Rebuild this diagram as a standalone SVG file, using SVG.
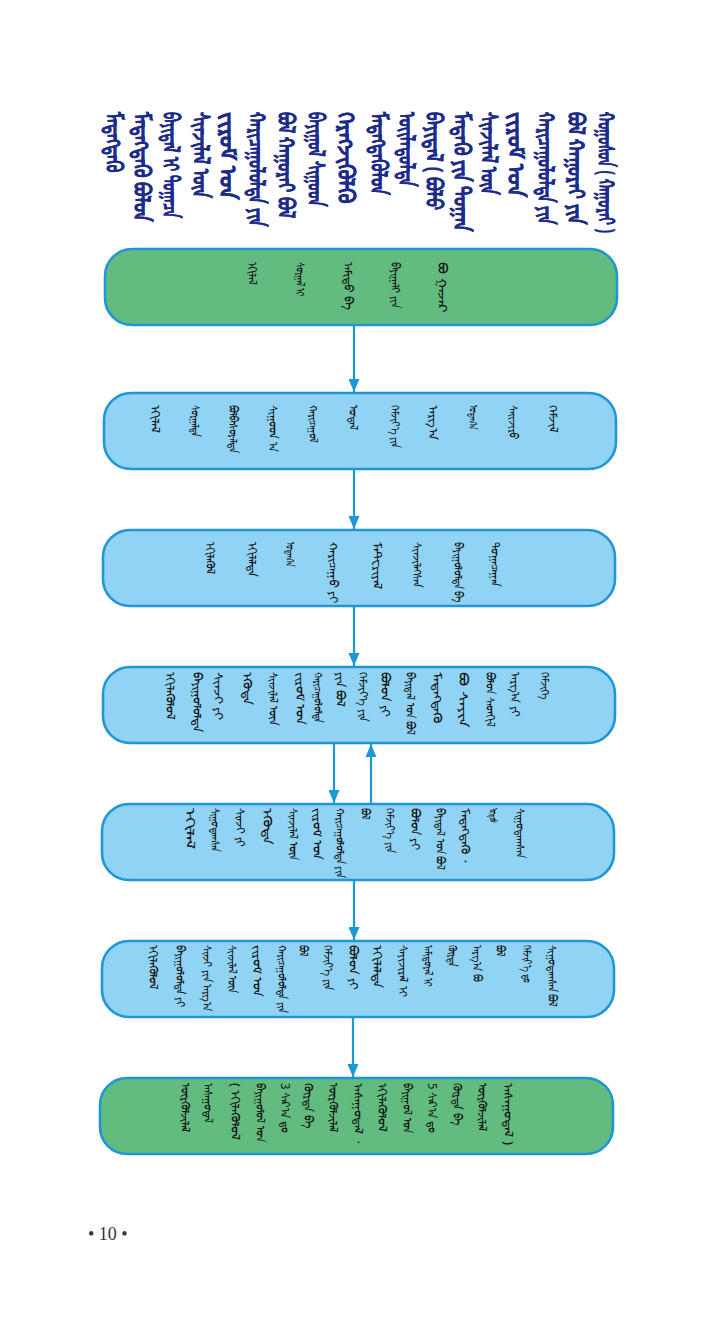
<svg xmlns="http://www.w3.org/2000/svg" width="720" height="1319" viewBox="0 0 720 1319">
<style>
.bg{fill:#ffffff}
.box{stroke:#2097d4;stroke-width:2.6}
.blue{fill:#90d3f4}
.green{fill:#62bb7f}
.conn{stroke:#1c98d6;stroke-width:2.2;fill:none}
.ttl{font-family:"Noto Sans","DejaVu Sans",sans-serif;font-size:23px;font-weight:bold;fill:#1c2c8a;stroke:#1c2c8a;stroke-width:0.3;dominant-baseline:central}
.txt{font-family:"Noto Sans","DejaVu Sans",sans-serif;font-size:12px;fill:#111111;dominant-baseline:central}
.pg{font-family:"Liberation Serif",serif;font-size:18px;fill:#333333}
</style>
<defs>
<marker id="ah" viewBox="0 0 13 11" refX="13" refY="5.5" markerWidth="13" markerHeight="11" markerUnits="userSpaceOnUse" orient="auto">
<path d="M0,0 L13,5.5 L0,11 z" fill="#1c98d6"/>
</marker>
</defs>
<rect class="bg" x="0" y="0" width="720" height="1319"/>

<g id="title">
<text class="ttl" x="115" y="112" transform="rotate(90 115 112)" textLength="60" lengthAdjust="spacingAndGlyphs">ᠮᠡᠳᠡᠭᠳᠡᠬᠦ</text>
<text class="ttl" x="143" y="112" transform="rotate(90 143 112)" textLength="110" lengthAdjust="spacingAndGlyphs">ᠮᠡᠳᠡᠭᠳᠡᠬᠦ ᠪᠣᠯᠤᠨ</text>
<text class="ttl" x="172" y="112" transform="rotate(90 172 112)" textLength="106" lengthAdjust="spacingAndGlyphs">ᠪᠠᠶᠢᠳᠠᠯ ᠢ ᠲᠣᠭᠠᠴᠠ</text>
<text class="ttl" x="202" y="112" transform="rotate(90 202 112)" textLength="86" lengthAdjust="spacingAndGlyphs">ᠰᠢᠨᠵᠢᠯᠡᠯ ᠦᠨ</text>
<text class="ttl" x="229" y="112" transform="rotate(90 229 112)" textLength="88" lengthAdjust="spacingAndGlyphs">ᠵᠢᠷᠤᠮ ᠤᠨ</text>
<text class="ttl" x="258" y="112" transform="rotate(90 258 112)" textLength="115" lengthAdjust="spacingAndGlyphs">ᠬᠠᠷᠢᠴᠠᠭᠤᠯᠤᠯᠲᠠ ᠶᠢᠨ</text>
<text class="ttl" x="287" y="112" transform="rotate(90 287 112)" textLength="106" lengthAdjust="spacingAndGlyphs">ᠪᠣᠯ ᠬᠠᠭᠤᠷᠠᠢ ᠪᠣᠯ</text>
<text class="ttl" x="317" y="112" transform="rotate(90 317 112)" textLength="95" lengthAdjust="spacingAndGlyphs">ᠪᠠᠶᠢᠭᠤᠯ ᠰᠢᠭᠤᠳ</text>
<text class="ttl" x="347" y="112" transform="rotate(90 347 112)" textLength="91" lengthAdjust="spacingAndGlyphs">ᠬᠡᠷᠡᠭᠵᠢᠬᠦᠯᠬᠦ</text>
<text class="ttl" x="380" y="112" transform="rotate(90 380 112)" textLength="83" lengthAdjust="spacingAndGlyphs">ᠮᠡᠳᠡᠭᠳᠡᠬᠦᠯᠦᠨ</text>
<text class="ttl" x="408" y="112" transform="rotate(90 408 112)" textLength="75" lengthAdjust="spacingAndGlyphs">ᠦᠢᠯᠡᠳᠦᠯᠲᠡ</text>
<text class="ttl" x="435" y="112" transform="rotate(90 435 112)" textLength="98" lengthAdjust="spacingAndGlyphs">ᠪᠠᠶᠢᠳᠠᠯ ( ᠪᠣᠯᠤ</text>
<text class="ttl" x="463" y="112" transform="rotate(90 463 112)" textLength="120" lengthAdjust="spacingAndGlyphs">ᠮᠡᠳᠡᠬᠦ ᠶᠢᠨ ᠲᠣᠭᠠᠨ</text>
<text class="ttl" x="490" y="112" transform="rotate(90 490 112)" textLength="83" lengthAdjust="spacingAndGlyphs">ᠰᠢᠨᠵᠢᠯᠡᠯ ᠦᠨ</text>
<text class="ttl" x="517" y="112" transform="rotate(90 517 112)" textLength="85" lengthAdjust="spacingAndGlyphs">ᠵᠢᠷᠤᠮ ᠤᠨ</text>
<text class="ttl" x="547" y="112" transform="rotate(90 547 112)" textLength="113" lengthAdjust="spacingAndGlyphs">ᠬᠠᠷᠢᠴᠠᠭᠤᠯᠤᠯᠲᠠ ᠶᠢᠨ</text>
<text class="ttl" x="577" y="112" transform="rotate(90 577 112)" textLength="113" lengthAdjust="spacingAndGlyphs">ᠪᠣᠯ ᠬᠠᠭᠤᠷᠠᠢ ᠶᠢᠨ</text>
<text class="ttl" x="607" y="112" transform="rotate(90 607 112)" textLength="121" lengthAdjust="spacingAndGlyphs">ᠬᠣᠭᠣᠰᠣᠨ ( ᠬᠠᠭᠤᠷᠠᠢ )</text>
</g>

<g id="connectors">
<path class="conn" d="M354,326 V392" marker-end="url(#ah)"/>
<path class="conn" d="M354,470 V529" marker-end="url(#ah)"/>
<path class="conn" d="M354,607 V666" marker-end="url(#ah)"/>
<path class="conn" d="M334,744 V803" marker-end="url(#ah)"/>
<path class="conn" d="M371,803 V744" marker-end="url(#ah)"/>
<path class="conn" d="M354,881 V940" marker-end="url(#ah)"/>
<path class="conn" d="M353,1018 V1077" marker-end="url(#ah)"/>
</g>

<g id="node1">
<rect class="box green" x="105" y="249" width="512" height="76" rx="27"/>
<text class="txt" x="252" y="262" transform="rotate(90 252 262)" textLength="23" lengthAdjust="spacingAndGlyphs">ᠡᠬᠢᠯᠡᠯ</text>
<text class="txt" x="300" y="262" transform="rotate(90 300 262)" textLength="35" lengthAdjust="spacingAndGlyphs">ᠰᠤᠷᠭᠠᠯ ᠢ</text>
<text class="txt" x="348" y="262" transform="rotate(90 348 262)" textLength="48" lengthAdjust="spacingAndGlyphs">ᠠᠮᠢᠳᠤ ᠪᠠ</text>
<text class="txt" x="395" y="262" transform="rotate(90 395 262)" textLength="46" lengthAdjust="spacingAndGlyphs">ᠪᠠᠶᠢᠭᠠᠯᠢ ᠶᠢᠨ</text>
<text class="txt" x="442" y="262" transform="rotate(90 442 262)" textLength="50" lengthAdjust="spacingAndGlyphs">ᠪᠣ ᠭᠠᠵᠠᠷ</text>
</g>

<g id="node2">
<rect class="box blue" x="104" y="393" width="512" height="76" rx="27"/>
<text class="txt" x="155" y="405" transform="rotate(90 155 405)" textLength="28" lengthAdjust="spacingAndGlyphs">ᠡᠬᠢᠯᠡᠯ</text>
<text class="txt" x="195" y="405" transform="rotate(90 195 405)" textLength="32" lengthAdjust="spacingAndGlyphs">ᠰᠤᠷᠭᠠᠯᠲᠠ</text>
<text class="txt" x="233" y="405" transform="rotate(90 233 405)" textLength="48" lengthAdjust="spacingAndGlyphs">ᠪᠣᠯᠪᠠᠰᠤᠷᠠᠯᠲᠠ</text>
<text class="txt" x="273" y="405" transform="rotate(90 273 405)" textLength="47" lengthAdjust="spacingAndGlyphs">ᠰᠢᠭᠤᠳ ᠠ</text>
<text class="txt" x="313" y="405" transform="rotate(90 313 405)" textLength="38" lengthAdjust="spacingAndGlyphs">ᠬᠠᠷᠢᠴᠠᠭᠤᠯ</text>
<text class="txt" x="353" y="405" transform="rotate(90 353 405)" textLength="25" lengthAdjust="spacingAndGlyphs">ᠤᠳᠠᠯ</text>
<text class="txt" x="395" y="405" transform="rotate(90 395 405)" textLength="43" lengthAdjust="spacingAndGlyphs">ᠬᠡᠮᠵᠢᠶ᠎ᠡ ᠶᠢᠨ</text>
<text class="txt" x="433" y="405" transform="rotate(90 433 405)" textLength="35" lengthAdjust="spacingAndGlyphs">ᠠᠷᠭ᠎ᠠ</text>
<text class="txt" x="473" y="405" transform="rotate(90 473 405)" textLength="25" lengthAdjust="spacingAndGlyphs">ᠤᠳᠠᠭ᠎ᠠ</text>
<text class="txt" x="513" y="405" transform="rotate(90 513 405)" textLength="35" lengthAdjust="spacingAndGlyphs">ᠰᠠᠢᠵᠢᠷᠤ</text>
<text class="txt" x="553" y="405" transform="rotate(90 553 405)" textLength="28" lengthAdjust="spacingAndGlyphs">ᠬᠡᠮᠵᠢᠯ</text>
</g>

<g id="node3">
<rect class="box blue" x="103" y="530" width="512" height="76" rx="27"/>
<text class="txt" x="210" y="542" transform="rotate(90 210 542)" textLength="33" lengthAdjust="spacingAndGlyphs">ᠡᠬᠢᠯᠡᠭᠦᠯ</text>
<text class="txt" x="252" y="542" transform="rotate(90 252 542)" textLength="35" lengthAdjust="spacingAndGlyphs">ᠡᠬᠢᠯᠡᠯᠲᠡ</text>
<text class="txt" x="290" y="542" transform="rotate(90 290 542)" textLength="25" lengthAdjust="spacingAndGlyphs">ᠤᠳᠠᠭ᠎ᠠ</text>
<text class="txt" x="333" y="542" transform="rotate(90 333 542)" textLength="61" lengthAdjust="spacingAndGlyphs">ᠬᠠᠷᠢᠴᠠᠭᠤ ᠶᠢ</text>
<text class="txt" x="377" y="542" transform="rotate(90 377 542)" textLength="48" lengthAdjust="spacingAndGlyphs">ᠮᠠᠲ᠋ᠧᠷᠢᠶᠠᠯ</text>
<text class="txt" x="417" y="542" transform="rotate(90 417 542)" textLength="45" lengthAdjust="spacingAndGlyphs">ᠰᠢᠨᠵᠢᠯᠡᠭᠰᠡᠨ</text>
<text class="txt" x="458" y="542" transform="rotate(90 458 542)" textLength="61" lengthAdjust="spacingAndGlyphs">ᠪᠠᠶᠢᠭᠤᠯᠤᠯᠲᠠ ᠪᠠ</text>
<text class="txt" x="495" y="542" transform="rotate(90 495 542)" textLength="45" lengthAdjust="spacingAndGlyphs">ᠲᠣᠭᠠᠴᠠᠭᠠᠨ</text>
</g>

<g id="node4">
<rect class="box blue" x="103" y="667" width="512" height="76" rx="27"/>
<text class="txt" x="170" y="672" transform="rotate(90 170 672)" textLength="48" lengthAdjust="spacingAndGlyphs">ᠡᠬᠢᠯᠡᠭᠦᠯᠦᠯ</text>
<text class="txt" x="197" y="672" transform="rotate(90 197 672)" textLength="60" lengthAdjust="spacingAndGlyphs">ᠪᠠᠶᠢᠭᠤᠯᠤᠯᠲᠠ</text>
<text class="txt" x="218" y="672" transform="rotate(90 218 672)" textLength="48" lengthAdjust="spacingAndGlyphs">ᠰᠢᠨᠵᠢ ᠶᠢ</text>
<text class="txt" x="247" y="672" transform="rotate(90 247 672)" textLength="33" lengthAdjust="spacingAndGlyphs">ᠡᠭᠦᠳᠡ</text>
<text class="txt" x="273" y="672" transform="rotate(90 273 672)" textLength="53" lengthAdjust="spacingAndGlyphs">ᠰᠢᠨᠵᠢᠯᠡᠯ ᠦᠨ</text>
<text class="txt" x="300" y="672" transform="rotate(90 300 672)" textLength="53" lengthAdjust="spacingAndGlyphs">ᠵᠢᠷᠤᠮ ᠤᠨ</text>
<text class="txt" x="318" y="672" transform="rotate(90 318 672)" textLength="51" lengthAdjust="spacingAndGlyphs">ᠬᠠᠷᠢᠴᠠᠭᠤᠯᠤᠯᠲᠠ</text>
<text class="txt" x="340" y="672" transform="rotate(90 340 672)" textLength="35" lengthAdjust="spacingAndGlyphs">ᠶᠢᠨ ᠪᠣᠯ</text>
<text class="txt" x="363" y="672" transform="rotate(90 363 672)" textLength="50" lengthAdjust="spacingAndGlyphs">ᠬᠡᠮᠵᠢᠶ᠎ᠡ ᠶᠢᠨ</text>
<text class="txt" x="385" y="672" transform="rotate(90 385 672)" textLength="45" lengthAdjust="spacingAndGlyphs">ᠪᠣᠯᠤᠨ ᠶᠢ</text>
<text class="txt" x="410" y="672" transform="rotate(90 410 672)" textLength="63" lengthAdjust="spacingAndGlyphs">ᠪᠠᠶᠢᠳᠠᠯ ᠤᠨ ᠪᠣᠯ</text>
<text class="txt" x="437" y="672" transform="rotate(90 437 672)" textLength="51" lengthAdjust="spacingAndGlyphs">ᠮᠡᠳᠡᠭᠳᠡᠬᠦ</text>
<text class="txt" x="463" y="672" transform="rotate(90 463 672)" textLength="55" lengthAdjust="spacingAndGlyphs">ᠪᠣ ᠰᠠᠶᠢᠨ</text>
<text class="txt" x="490" y="672" transform="rotate(90 490 672)" textLength="55" lengthAdjust="spacingAndGlyphs">ᠪᠣᠯᠤᠨ ᠰᠡᠳᠬᠢᠯ</text>
<text class="txt" x="515" y="672" transform="rotate(90 515 672)" textLength="45" lengthAdjust="spacingAndGlyphs">ᠠᠷᠭ᠎ᠠ ᠶᠢ</text>
<text class="txt" x="545" y="672" transform="rotate(90 545 672)" textLength="28" lengthAdjust="spacingAndGlyphs">ᠬᠡᠮᠵᠢᠭᠡ</text>
</g>

<g id="node5">
<rect class="box blue" x="102" y="804" width="512" height="76" rx="27"/>
<text class="txt" x="190" y="808" transform="rotate(90 190 808)" textLength="42" lengthAdjust="spacingAndGlyphs">ᠡᠬᠢᠯᠡᠯ</text>
<text class="txt" x="215" y="808" transform="rotate(90 215 808)" textLength="44" lengthAdjust="spacingAndGlyphs">ᠰᠢᠭᠤᠳᠠᠭᠰᠠᠨ</text>
<text class="txt" x="240" y="808" transform="rotate(90 240 808)" textLength="39" lengthAdjust="spacingAndGlyphs">ᠰᠢᠨᠵᠢ ᠶᠢ</text>
<text class="txt" x="267" y="808" transform="rotate(90 267 808)" textLength="37" lengthAdjust="spacingAndGlyphs">ᠡᠭᠦᠳᠡ</text>
<text class="txt" x="293" y="808" transform="rotate(90 293 808)" textLength="52" lengthAdjust="spacingAndGlyphs">ᠰᠢᠨᠵᠢᠯᠡᠯ ᠦᠨ</text>
<text class="txt" x="317" y="808" transform="rotate(90 317 808)" textLength="52" lengthAdjust="spacingAndGlyphs">ᠵᠢᠷᠤᠮ ᠤᠨ</text>
<text class="txt" x="340" y="808" transform="rotate(90 340 808)" textLength="70" lengthAdjust="spacingAndGlyphs">ᠬᠠᠷᠢᠴᠠᠭᠤᠯᠤᠯᠲᠠ ᠶᠢᠨ</text>
<text class="txt" x="365" y="808" transform="rotate(90 365 808)" textLength="12" lengthAdjust="spacingAndGlyphs">ᠪᠣᠯ</text>
<text class="txt" x="390" y="808" transform="rotate(90 390 808)" textLength="45" lengthAdjust="spacingAndGlyphs">ᠬᠡᠮᠵᠢᠶ᠎ᠡ ᠶᠢᠨ</text>
<text class="txt" x="415" y="808" transform="rotate(90 415 808)" textLength="42" lengthAdjust="spacingAndGlyphs">ᠪᠣᠯᠤᠨ ᠶᠢ</text>
<text class="txt" x="440" y="808" transform="rotate(90 440 808)" textLength="62" lengthAdjust="spacingAndGlyphs">ᠪᠠᠶᠢᠳᠠᠯ ᠤᠨ ᠪᠣᠯ</text>
<text class="txt" x="465" y="808" transform="rotate(90 465 808)" textLength="55" lengthAdjust="spacingAndGlyphs">ᠮᠡᠳᠡᠭᠳᠡᠬᠦ ᠂</text>
<text class="txt" x="493" y="808" transform="rotate(90 493 808)" textLength="15" lengthAdjust="spacingAndGlyphs">ᠦᠨᠳᠦᠰ</text>
<text class="txt" x="520" y="808" transform="rotate(90 520 808)" textLength="50" lengthAdjust="spacingAndGlyphs">ᠰᠢᠭᠤᠳᠠᠭᠰᠠᠨ</text>
</g>

<g id="node6">
<rect class="box blue" x="102" y="941" width="512" height="76" rx="27"/>
<text class="txt" x="153" y="945" transform="rotate(90 153 945)" textLength="45" lengthAdjust="spacingAndGlyphs">ᠡᠬᠢᠯᠡᠭᠦᠯᠦᠯ</text>
<text class="txt" x="180" y="945" transform="rotate(90 180 945)" textLength="62" lengthAdjust="spacingAndGlyphs">ᠪᠠᠶᠢᠭᠤᠯᠤᠯᠲᠠ ᠶᠢ</text>
<text class="txt" x="207" y="945" transform="rotate(90 207 945)" textLength="66" lengthAdjust="spacingAndGlyphs">ᠰᠢᠨᠵᠢ ᠶᠢᠨ ᠠᠷᠭ᠎ᠠ</text>
<text class="txt" x="232" y="945" transform="rotate(90 232 945)" textLength="48" lengthAdjust="spacingAndGlyphs">ᠰᠢᠨᠵᠢᠯᠡᠯ ᠦᠨ</text>
<text class="txt" x="257" y="945" transform="rotate(90 257 945)" textLength="52" lengthAdjust="spacingAndGlyphs">ᠵᠢᠷᠤᠮ ᠤᠨ</text>
<text class="txt" x="282" y="945" transform="rotate(90 282 945)" textLength="68" lengthAdjust="spacingAndGlyphs">ᠬᠠᠷᠢᠴᠠᠭᠤᠯᠤᠯᠲᠠ ᠶᠢᠨ</text>
<text class="txt" x="303" y="945" transform="rotate(90 303 945)" textLength="12" lengthAdjust="spacingAndGlyphs">ᠪᠣᠯ</text>
<text class="txt" x="328" y="945" transform="rotate(90 328 945)" textLength="45" lengthAdjust="spacingAndGlyphs">ᠬᠡᠮᠵᠢᠶ᠎ᠡ ᠶᠢᠨ</text>
<text class="txt" x="353" y="945" transform="rotate(90 353 945)" textLength="45" lengthAdjust="spacingAndGlyphs">ᠪᠣᠯᠤᠨ ᠶᠢ</text>
<text class="txt" x="377" y="945" transform="rotate(90 377 945)" textLength="43" lengthAdjust="spacingAndGlyphs">ᠡᠬᠢᠯᠡᠯᠲᠡ</text>
<text class="txt" x="403" y="945" transform="rotate(90 403 945)" textLength="52" lengthAdjust="spacingAndGlyphs">ᠰᠠᠶᠢᠵᠢᠷᠠᠯ ᠢ</text>
<text class="txt" x="428" y="945" transform="rotate(90 428 945)" textLength="42" lengthAdjust="spacingAndGlyphs">ᠠᠮᠢᠳᠤᠷᠠᠯ ᠢ</text>
<text class="txt" x="452" y="945" transform="rotate(90 452 945)" textLength="22" lengthAdjust="spacingAndGlyphs">ᠬᠦᠷᠳᠡ</text>
<text class="txt" x="477" y="945" transform="rotate(90 477 945)" textLength="37" lengthAdjust="spacingAndGlyphs">ᠠᠷᠭ᠎ᠠ ᠪᠣ</text>
<text class="txt" x="500" y="945" transform="rotate(90 500 945)" textLength="12" lengthAdjust="spacingAndGlyphs">ᠪᠣᠯ</text>
<text class="txt" x="527" y="945" transform="rotate(90 527 945)" textLength="38" lengthAdjust="spacingAndGlyphs">ᠬᠡᠮᠵᠢᠶ᠎ᠡ ᠳᠤ</text>
<text class="txt" x="552" y="945" transform="rotate(90 552 945)" textLength="62" lengthAdjust="spacingAndGlyphs">ᠰᠢᠭᠤᠳᠠᠭᠰᠠᠨ ᠪᠣᠯ</text>
</g>

<g id="node7">
<rect class="box green" x="100" y="1078" width="513" height="76" rx="27"/>
<text class="txt" x="185" y="1083" transform="rotate(90 185 1083)" textLength="50" lengthAdjust="spacingAndGlyphs">ᠦᠷᠭᠦᠯᠵᠢᠯᠡᠯ</text>
<text class="txt" x="208" y="1083" transform="rotate(90 208 1083)" textLength="40" lengthAdjust="spacingAndGlyphs">ᠠᠰᠠᠭᠤᠳᠠᠯ</text>
<text class="txt" x="235" y="1083" transform="rotate(90 235 1083)" textLength="57" lengthAdjust="spacingAndGlyphs">( ᠡᠬᠢᠯᠡᠭᠦᠯᠦᠯ</text>
<text class="txt" x="260" y="1083" transform="rotate(90 260 1083)" textLength="59" lengthAdjust="spacingAndGlyphs">ᠪᠠᠶᠢᠭᠤᠯᠤᠯ ᠤᠨ</text>
<text class="txt" x="285" y="1083" transform="rotate(90 285 1083)" textLength="50" lengthAdjust="spacingAndGlyphs">3 ᠰᠠᠷ᠎ᠠ ᠳᠤ</text>
<text class="txt" x="308" y="1083" transform="rotate(90 308 1083)" textLength="45" lengthAdjust="spacingAndGlyphs">ᠬᠦᠷᠳᠡ ᠪᠡ</text>
<text class="txt" x="333" y="1083" transform="rotate(90 333 1083)" textLength="50" lengthAdjust="spacingAndGlyphs">ᠦᠷᠭᠦᠯᠵᠢᠯᠡᠯ</text>
<text class="txt" x="358" y="1083" transform="rotate(90 358 1083)" textLength="60" lengthAdjust="spacingAndGlyphs">ᠠᠰᠠᠭᠤᠳᠠᠯ ᠂</text>
<text class="txt" x="382" y="1083" transform="rotate(90 382 1083)" textLength="49" lengthAdjust="spacingAndGlyphs">ᠡᠬᠢᠯᠡᠭᠦᠯᠦᠯ</text>
<text class="txt" x="407" y="1083" transform="rotate(90 407 1083)" textLength="50" lengthAdjust="spacingAndGlyphs">ᠪᠠᠶᠢᠭᠤᠯ ᠤᠨ</text>
<text class="txt" x="432" y="1083" transform="rotate(90 432 1083)" textLength="50" lengthAdjust="spacingAndGlyphs">5 ᠰᠠᠷ᠎ᠠ ᠳᠤ</text>
<text class="txt" x="457" y="1083" transform="rotate(90 457 1083)" textLength="42" lengthAdjust="spacingAndGlyphs">ᠬᠦᠷᠳᠡ ᠪᠡ</text>
<text class="txt" x="482" y="1083" transform="rotate(90 482 1083)" textLength="49" lengthAdjust="spacingAndGlyphs">ᠦᠷᠭᠦᠯᠵᠢᠯᠡᠯ</text>
<text class="txt" x="508" y="1083" transform="rotate(90 508 1083)" textLength="62" lengthAdjust="spacingAndGlyphs">ᠠᠰᠠᠭᠤᠳᠠᠯ )</text>
</g>

<text class="pg" x="88" y="1240">• 10 •</text>
</svg>
